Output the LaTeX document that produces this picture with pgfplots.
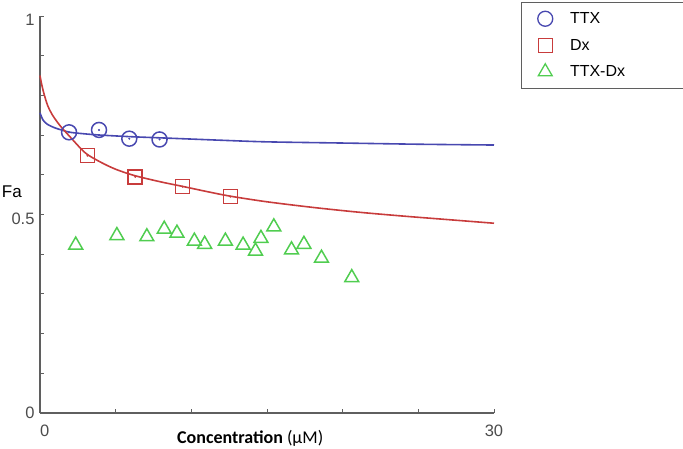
\documentclass[border=0pt]{standalone}
\usepackage{pgfplots}
\pgfplotsset{compat=1.18}
\usepackage{fontspec}
\setmainfont{Liberation Sans}
\newfontfamily\calibri{Carlito}
\definecolor{cb}{RGB}{72,72,176}
\definecolor{cr}{RGB}{200,60,60}
\definecolor{cg}{RGB}{80,205,80}
\definecolor{ax}{RGB}{95,95,95}
\begin{document}
\begin{tikzpicture}
\path[use as bounding box] (0pt,0pt) rectangle (683pt,448pt);
\begin{axis}[
  at={(40pt,35pt)}, anchor=south west,
  scale only axis, width=454pt, height=397pt,
  xmin=0, xmax=30, ymin=0, ymax=1,
  axis lines=left, axis line style={-, ax, line width=1.3pt},
  xtick={0,5,10,15,20,25,30},
  xticklabels={\makebox[0pt][l]{0},,,,,,30},
  ytick={0,0.1,0.2,0.3,0.4,0.5,0.6,0.7,0.8,0.9,1},
  yticklabels={\raisebox{9pt}{0},,,,,0.5,,,,,1},
  /pgf/number format/assume math mode=true,
  tick align=inside, major tick length=4pt,
  tick style={ax, line width=1pt},
  ticklabel style={font=\fontsize{16.5}{19}\selectfont, text=ax!80!black},
  xticklabel style={yshift=-8pt},
  yticklabel style={xshift=-2pt, yshift=-4pt},
  xlabel={{\calibri\fontsize{18}{21}\selectfont\textbf{Concentration} (μM)}},
  xlabel style={at={(axis description cs:0.463,0)}, anchor=base, yshift=-30pt},
  ylabel={Fa},
  ylabel style={rotate=-90, at={(axis description cs:-0.062,0.557)}, anchor=center, font=\fontsize{17}{20}\selectfont},
  legend style={at={(axis description cs:1.0595,1.0353)}, anchor=north west,
    draw=ax, line width=1pt, font=\fontsize{16}{19}\selectfont,
    inner xsep=0pt, inner ysep=8pt, row sep=10pt, cells={anchor=west}},
  legend image code/.code={\path (0pt,0pt) (45pt,0pt);\draw[#1,line width=1.3pt] plot coordinates {(23pt,0pt)};},
  clip=false,
]
\addplot[cb, line width=1.6pt, smooth, forget plot] coordinates {
(0,0.756) (0.2,0.738) (0.5,0.727) (1.0,0.718) (1.5,0.712) (2,0.707) (3,0.703)
(4,0.700) (6,0.696) (8,0.693) (10,0.690) (12,0.687) (15,0.683) (20,0.680)
(25,0.677) (30,0.675)};
\addplot[cr, line width=1.6pt, smooth, forget plot] coordinates {
(0,0.850) (0.1,0.830) (0.25,0.806) (0.5,0.775) (0.8,0.752) (1.3,0.725) (2,0.695)
(3,0.655) (4,0.632) (5,0.614) (6.25,0.598) (8,0.582) (9.4,0.571) (11,0.558)
(12.6,0.546) (15,0.532) (18,0.518) (21,0.506) (24,0.496) (27,0.487) (30,0.478)};
\addplot[only marks, cb, mark=o, mark size=7.5pt, line width=1.5pt] coordinates {
(1.92,0.707) (3.90,0.713) (5.90,0.691) (7.90,0.689)};
\addlegendentry{TTX}
\addplot[only marks, cr, mark=square, mark size=7pt, line width=1.5pt] coordinates {
(3.13,0.648) (6.29,0.595) (9.42,0.570) (12.58,0.545)};
\addlegendentry{Dx}
\addplot[only marks, cg, mark=triangle, mark size=8pt, line width=1.5pt] coordinates {
(2.36,0.423) (5.08,0.447) (7.06,0.444) (8.21,0.463) (9.05,0.453) (10.2,0.433)
(10.88,0.425) (12.25,0.433) (13.42,0.423) (14.24,0.408) (14.6,0.440) (15.45,0.469)
(16.62,0.411) (17.44,0.425) (18.6,0.390) (20.6,0.341)};
\addlegendentry{TTX-Dx\hspace*{56pt}}
\addplot[only marks, cb, mark=*, mark size=0.8pt, forget plot] coordinates {
(1.92,0.707) (3.90,0.713) (5.90,0.691) (7.90,0.689)};
\addplot[only marks, cr, mark=*, mark size=0.8pt, forget plot] coordinates {
(3.13,0.648) (6.29,0.595) (9.42,0.570) (12.58,0.545)};
\end{axis}
\end{tikzpicture}
\end{document}
